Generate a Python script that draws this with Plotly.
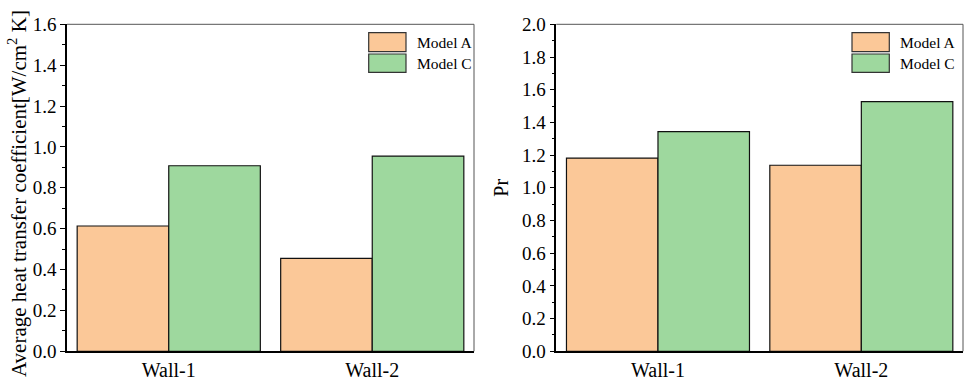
import plotly.graph_objects as go

# Data
walls = ["Wall-1", "Wall-2"]
series_names = ["Model A", "Model C"]
htc_model_a = [0.613, 0.455]
htc_model_c = [0.908, 0.955]
pr_model_a = [1.182, 1.138]
pr_model_c = [1.343, 1.527]

colors = {"Model A": "#FBC898", "Model C": "#9ED89E"}
FONT = "Liberation Serif"
W, H = 965, 382

fig = go.Figure()

panels = [
    ("x", "y", {"Model A": htc_model_a, "Model C": htc_model_c}),
    ("x2", "y2", {"Model A": pr_model_a, "Model C": pr_model_c}),
]
for xa, ya, vals in panels:
    for name in series_names:
        fig.add_trace(go.Bar(
            x=walls, y=vals[name], name=name, xaxis=xa, yaxis=ya,
            marker=dict(color=colors[name], line=dict(color="#111111", width=1.2)),
            showlegend=False,
        ))

ydom = [1 - 351.3 / H, 1 - 24.3 / H]
x1dom = [67 / W, 474 / W]
x2dom = [556.3 / W, 963 / W]

xcommon = dict(
    type="category", range=[-0.5, 1.5], showline=True, linecolor="black", linewidth=1.5,
    ticks="", showgrid=False, zeroline=False, automargin=False,
    tickfont=dict(family=FONT, size=20, color="black"),
)
ycommon = dict(
    showline=True, linecolor="black", linewidth=1.5, ticks="outside", ticklen=5,
    tickwidth=1.2, tickcolor="black", showgrid=False, zeroline=False, automargin=False,
    tickfont=dict(family=FONT, size=19, color="black"), tickformat=".1f",
    minor=dict(ticks="outside", ticklen=3, tickwidth=1.2, tickcolor="black", dtick=0.1),
)

fig.update_layout(
    width=W, height=H,
    margin=dict(l=0, r=0, t=0, b=0, autoexpand=False),
    paper_bgcolor="white", plot_bgcolor="white",
    barmode="group", bargap=0.1, bargroupgap=0,
    font=dict(family=FONT, color="black"),
    xaxis=dict(domain=x1dom, anchor="y", **xcommon),
    xaxis2=dict(domain=x2dom, anchor="y2", **xcommon),
    yaxis=dict(domain=ydom, anchor="x", range=[0, 1.6], dtick=0.2, **ycommon),
    yaxis2=dict(domain=ydom, anchor="x2", range=[0, 2.0], dtick=0.2, **ycommon,
                title=dict(text="Pr", font=dict(family=FONT, size=20), standoff=8)),
)

# Left panel y-axis title
fig.add_annotation(xref="paper", yref="paper", x=17 / W, y=1 - 194 / H,
                   text="Average heat transfer coefficient[W/cm<sup>2</sup> K]",
                   textangle=-90, showarrow=False, xanchor="center", yanchor="middle",
                   font=dict(family=FONT, size=21, color="black"))

# Thin grey frame on the top and right of each panel
for xa, ya in [("x", "y"), ("x2", "y2")]:
    fig.add_shape(type="line", xref=f"{xa} domain", yref=f"{ya} domain",
                  x0=0, x1=1, y0=1, y1=1, line=dict(color="#555555", width=1))
    fig.add_shape(type="line", xref=f"{xa} domain", yref=f"{ya} domain",
                  x0=1, x1=1, y0=0, y1=1, line=dict(color="#555555", width=1))

# Legend boxes with labels, placed in the upper right of each panel
legend_spots = [(368.7, 406.0, 415.0), (852.0, 889.3, 898.3)]
rows = [(32.7, 51.7), (54.0, 72.3)]
for sx0, sx1, tx in legend_spots:
    for name, (ry0, ry1) in zip(series_names, rows):
        fig.add_shape(type="rect", xref="paper", yref="paper",
                      x0=sx0 / W, x1=sx1 / W, y0=1 - ry1 / H, y1=1 - ry0 / H,
                      fillcolor=colors[name], line=dict(color="#333333", width=1.2))
        fig.add_annotation(xref="paper", yref="paper", x=tx / W,
                           y=1 - (ry0 + ry1) / 2 / H, text=name, showarrow=False,
                           xanchor="left", yanchor="middle",
                           font=dict(family=FONT, size=15.5, color="black"))

fig.write_html("out.html")
